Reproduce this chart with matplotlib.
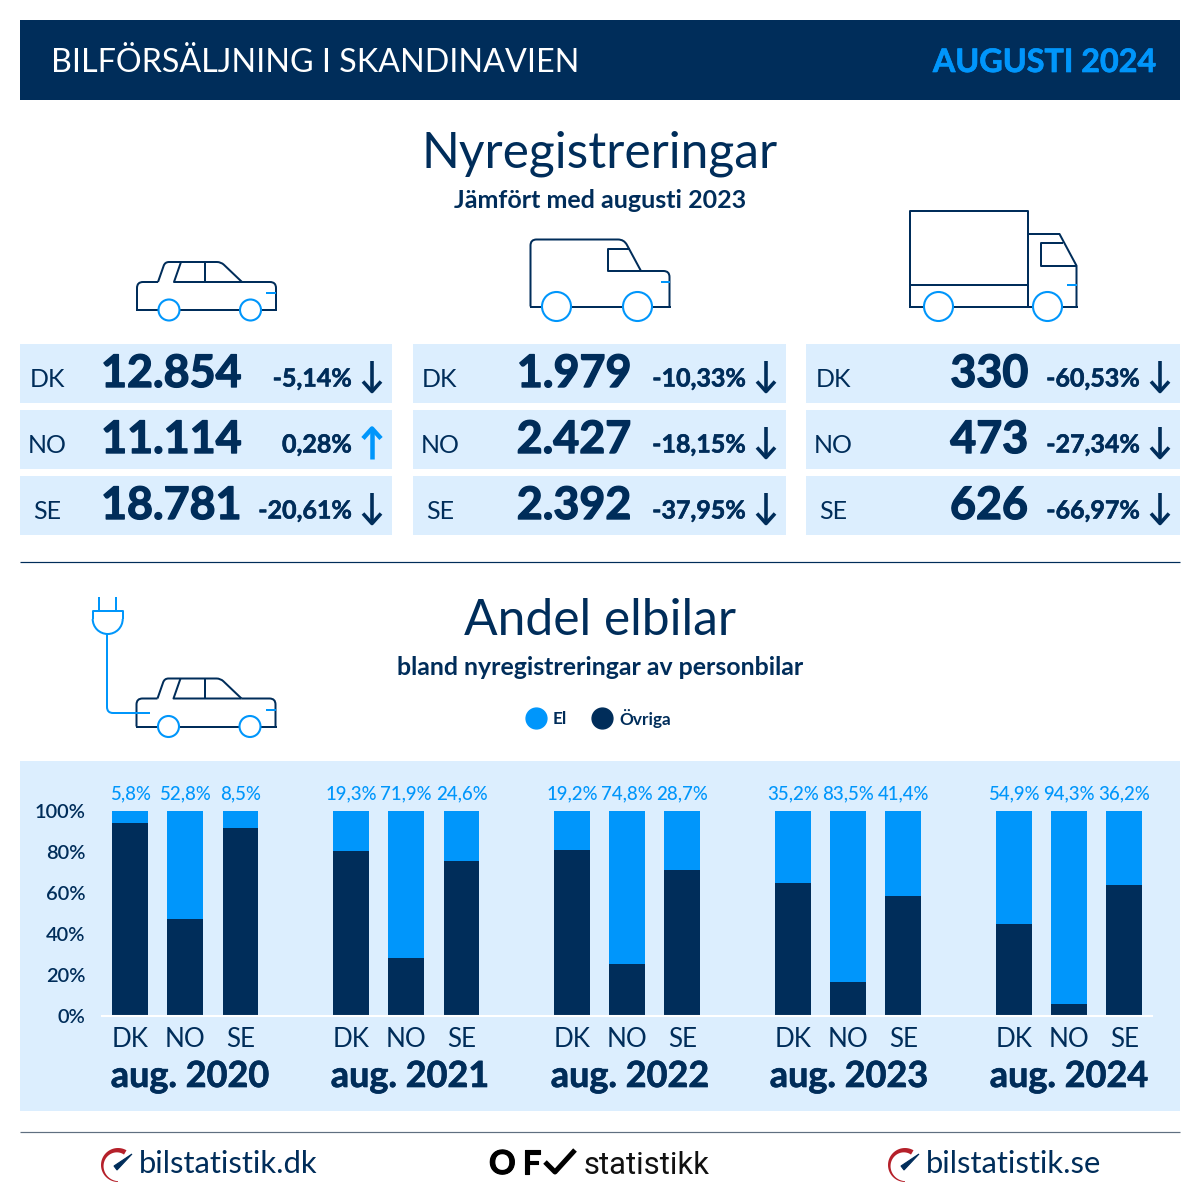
import numpy as np
import matplotlib
matplotlib.use('Agg')
from matplotlib import pyplot as plt
from matplotlib import patheffects as pe
from matplotlib.lines import Line2D
from matplotlib.patches import Rectangle, Circle, Arc, PathPatch, Polygon
from matplotlib.path import Path

NAVY = '#002d5a'
BLUE = '#0096fb'
LIGHT = '#dceefe'

plt.rcParams['font.family'] = ['Lato', 'DejaVu Sans']

countries = ['DK', 'NO', 'SE']

car_counts = [12854, 11114, 18781]
car_changes = [-5.14, 0.28, -20.61]
van_counts = [1979, 2427, 2392]
van_changes = [-10.33, -18.15, -37.95]
truck_counts = [330, 473, 626]
truck_changes = [-60.53, -27.34, -66.97]

periods = ['aug. 2020', 'aug. 2021', 'aug. 2022', 'aug. 2023', 'aug. 2024']
el_share = [5.8, 52.8, 8.5,
            19.3, 71.9, 24.6,
            19.2, 74.8, 28.7,
            35.2, 83.5, 41.4,
            54.9, 94.3, 36.2]
other_share = [94.2, 47.2, 91.5,
               80.7, 28.1, 75.4,
               80.8, 25.2, 71.3,
               64.8, 16.5, 58.6,
               45.1, 5.7, 63.8]
y_ticks = [0, 20, 40, 60, 80, 100]

fig = plt.figure(figsize=(12, 12), dpi=100, facecolor='white')
bg = fig.add_axes([0, 0, 1, 1])
bg.set_xlim(0, 1200)
bg.set_ylim(1200, 0)
bg.axis('off')


def fmt_num(n):
    return '{:,}'.format(n).replace(',', '.')


def fmt_pct(v, digits=2):
    return '{:.{}f}%'.format(v, digits).replace('.', ',')


def txt(x, y, s, px, color=NAVY, ha='center', weight='normal', stroke=0, **kw):
    # px = font size in pixels, y = baseline
    t = bg.text(x, y, s, fontsize=px * 0.72, color=color, ha=ha, va='baseline',
                fontweight=weight, **kw)
    if stroke:
        t.set_path_effects([pe.withStroke(linewidth=stroke, foreground=color)])
    return t


def line(pts, color=NAVY, lw=2.0, r=0, z=3):
    # polyline with optional rounded corners
    pts = [np.array(p, dtype=float) for p in pts]
    verts = [pts[0]]
    codes = [Path.MOVETO]
    for i in range(1, len(pts) - 1):
        p = pts[i]
        if r > 0:
            a = p + (pts[i - 1] - p) / np.linalg.norm(pts[i - 1] - p) * r
            b = p + (pts[i + 1] - p) / np.linalg.norm(pts[i + 1] - p) * r
            verts += [a, p, b]
            codes += [Path.LINETO, Path.CURVE3, Path.CURVE3]
        else:
            verts.append(p)
            codes.append(Path.LINETO)
    verts.append(pts[-1])
    codes.append(Path.LINETO)
    bg.add_patch(PathPatch(Path(verts, codes), fill=False, edgecolor=color,
                           lw=lw * 0.72, zorder=z, capstyle='butt', joinstyle='round'))


def wheel(x, y, r):
    bg.add_patch(Circle((x, y), r, facecolor='white', edgecolor=BLUE, lw=1.5, zorder=4))


def car(dx, dy):
    def sh(pts):
        return [(x + dx, y + dy) for x, y in pts]
    line(sh([(137, 310), (137, 282), (158, 282)]), r=6)
    line(sh([(158, 282), (165, 262), (221, 262), (242, 282)]), r=4)
    line(sh([(242, 282), (276, 282), (276, 310)]), r=6)
    line(sh([(136, 310), (277, 310)]))
    line(sh([(181, 262), (174, 282), (242, 282)]))
    line(sh([(205, 262), (205, 282)]))
    line(sh([(266, 293), (276, 293)]), color=BLUE)
    wheel(169 + dx, 310 + dy, 10.5)
    wheel(250.5 + dx, 310 + dy, 10.5)


def van():
    line([(530.5, 306.5), (530.5, 239.5), (624, 239.5), (641, 271)], r=6)
    line([(641, 271), (669.5, 271), (669.5, 306.5)], r=6)
    line([(529.5, 306.5), (670.5, 306.5)])
    line([(630, 248.7), (607.5, 248.7), (607.5, 271), (641, 271)])
    line([(661, 282.3), (669.5, 282.3)], color=BLUE)
    wheel(556.5, 306.5, 14.5)
    wheel(637.5, 306.5, 14.5)


def truck():
    line([(909.5, 306.5), (909.5, 211), (1028, 211), (1028, 306.5)])
    line([(909.5, 284.7), (1028, 284.7)])
    line([(908.5, 306.5), (1077.5, 306.5)])
    line([(1028, 234), (1059.5, 234), (1076.5, 265.7), (1076.5, 306.5)])
    line([(1063, 243), (1040.7, 243), (1040.7, 265.7), (1076.5, 265.7)])
    line([(1067, 285), (1076.5, 285)], color=BLUE)
    wheel(938.5, 306.5, 14.5)
    wheel(1047.5, 306.5, 14.5)


def arrow(x, y, up):
    # y = middle of the arrow
    color = BLUE if up else NAVY
    s = -1 if up else 1
    lw = 4.5 if up else 3.6
    line([(x, y - s * 16), (x, y + s * 14)], color=color, lw=lw)
    line([(x - 9, y + s * 4.5), (x, y + s * 14.5), (x + 9, y + s * 4.5)], color=color, lw=lw)


def gauge(cx, cy):
    # red crescent, thick at the top and thin at the bottom, then the needle
    ang = np.radians(np.arange(60, 271, 5))
    th = np.linspace(5, 0.8, len(ang))
    outer = np.c_[cx + 17 * np.cos(ang), cy - 17 * np.sin(ang)]
    inner = np.c_[cx + (17 - th) * np.cos(ang), cy - (17 - th) * np.sin(ang)]
    bg.add_patch(Polygon(np.r_[outer, inner[::-1]], color='#b5202a', lw=0, zorder=3))
    bg.add_patch(Polygon([(cx - 4, cy + 1), (cx + 14, cy - 11), (cx - 1, cy + 5)], color=NAVY,
                         lw=0.8, zorder=3))


# header
bg.add_patch(Rectangle((20, 20), 1160, 80, color=NAVY, lw=0))
txt(51, 72, 'BILFÖRSÄLJNING I SKANDINAVIEN', 32.3, color='white', ha='left')
txt(1156, 72, 'AUGUSTI 2024', 32.3, color=BLUE, ha='right', weight='bold', stroke=0.5)

# top section
txt(600, 167.5, 'Nyregistreringar', 49.8)
txt(600, 208, 'Jämfört med augusti 2023', 25, weight='bold')
car(0, 0)
van()
truck()

col_left = [20, 413, 806]
col_right = [392, 786, 1180]
num_right = [241, 631, 1028]
pct_right = [352, 746, 1140]
arrow_x = [372, 766, 1160]
label_x = [47, 440, 833]
col_counts = [car_counts, van_counts, truck_counts]
col_changes = [car_changes, van_changes, truck_changes]

for c in range(3):
    for r in range(3):
        dy = r * 66
        bg.add_patch(Rectangle((col_left[c], 344 + dy), col_right[c] - col_left[c], 58.5,
                               color=LIGHT, lw=0))
        txt(label_x[c], 387 + dy, countries[r], 25)
        txt(num_right[c], 387 + dy, fmt_num(col_counts[c][r]), 44.8, ha='right', weight='bold',
            stroke=1.0)
        txt(pct_right[c], 386.5 + dy, fmt_pct(col_changes[c][r]), 25, ha='right', weight='bold',
            stroke=0.4)
        arrow(arrow_x[c], 377 + dy, col_changes[c][r] > 0)

line([(20, 562), (1180, 562)], lw=1.2)

# electric section
txt(600, 635, 'Andel elbilar', 49.8)
txt(600, 675, 'bland nyregistreringar av personbilar', 24.85, weight='bold')
car(-0.5, 416.5)
line([(107, 634), (107, 713), (150, 713)], color=BLUE, r=6, z=3.5)
line([(92.7, 619), (92.7, 611), (122.7, 611), (122.7, 619)], color=BLUE)
bg.add_patch(Arc((107.7, 619), 30, 30, theta1=0, theta2=180, color=BLUE, lw=1.45, zorder=3))
line([(99, 597), (99, 611)], color=BLUE)
line([(116, 597), (116, 611)], color=BLUE)

bg.add_patch(Rectangle((20, 761), 1160, 350, color=LIGHT, lw=0))

# bar chart, one unit on x = 55.25 px
ax = fig.add_axes([102 / 1200, (1200 - 1016) / 1200, 1050 / 1200, 205 / 1200])
ax.patch.set_alpha(0)
x = []
for g in range(len(periods)):
    for i in range(len(countries)):
        x.append(g * 4 + i)
ax.bar(x, other_share, width=0.65, color=NAVY)
el_bars = ax.bar(x, el_share, width=0.65, bottom=other_share, color=BLUE)
ax.bar_label(el_bars, labels=[fmt_pct(v, 1) for v in el_share], padding=6,
             color=BLUE, fontsize=18.6 * 0.72, fontweight='medium')
ax.set_xlim(-0.507, 18.5)
ax.set_ylim(0, 100)
ax.set_yticks(y_ticks)
ax.set_yticklabels(['{}%'.format(t) for t in y_ticks], color=NAVY, fontsize=20 * 0.72,
                   fontweight='semibold')
ax.set_xticks(x)
ax.set_xticklabels(countries * len(periods), color=NAVY, fontsize=26 * 0.72)
ax.tick_params(axis='both', length=0)
ax.tick_params(axis='y', pad=12)
ax.tick_params(axis='x', pad=8)
for name in ['top', 'left', 'right']:
    ax.spines[name].set_visible(False)
ax.spines['bottom'].set_color('white')
ax.spines['bottom'].set_linewidth(1.5)

handles = [Line2D([], [], ls='', marker='o', ms=15, color=BLUE, label='El'),
           Line2D([], [], ls='', marker='o', ms=15, color=NAVY, label='Övriga')]
fig.legend(handles=handles, ncol=2, frameon=False, loc='center',
           bbox_to_anchor=(595 / 1200, 1 - 718 / 1200), handletextpad=-0.02, columnspacing=1.05,
           prop={'size': 17.2 * 0.72, 'weight': 'bold'}, labelcolor=NAVY)

period_x = [190, 410, 630, 849, 1069]
for px, label in zip(period_x, periods):
    txt(px, 1087, label, 36, weight='bold', stroke=0.5)

# footer
line([(20, 1132), (1180, 1132)], color='#5f6f80', lw=1.2)
gauge(118, 1165)
gauge(905, 1165)
txt(139, 1173, 'bilstatistik.dk', 31, ha='left')
txt(926, 1173, 'bilstatistik.se', 31, ha='left')
txt(489, 1174, 'O', 33, color='black', ha='left', weight='bold', stroke=0.8)
txt(522, 1174, 'F', 33, color='black', ha='left', weight='bold', stroke=0.8)
line([(545, 1162), (555, 1172), (575, 1150)], color='black', lw=5)
txt(584, 1174, 'statistikk', 31, color='#111111', ha='left', family=['Roboto', 'DejaVu Sans'])

fig.savefig('out.png', dpi=100)
